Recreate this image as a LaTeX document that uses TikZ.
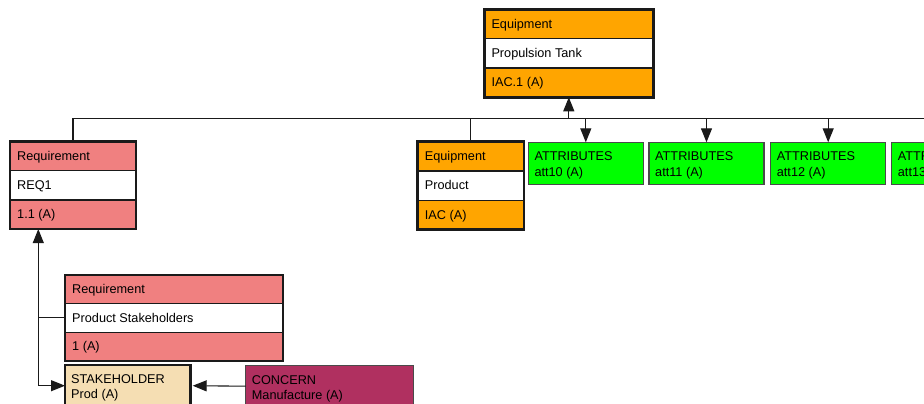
\documentclass[tikz,border=0pt]{standalone}
\usepackage{fontspec}
\setmainfont{Liberation Sans}
\usetikzlibrary{calc,arrows.meta}
\definecolor{eqorange}{HTML}{FFA500}
\definecolor{reqred}{HTML}{F08080}
\definecolor{attgreen}{HTML}{00FF00}
\definecolor{stkwheat}{HTML}{F5DEB3}
\definecolor{concernred}{HTML}{B03060}
\definecolor{edgecol}{HTML}{1A1A1A}
\definecolor{thinedge}{HTML}{4A4A4A}
\tikzset{
  conn/.style={draw=edgecol, line width=1.1pt},
  arr/.style={conn, -{Triangle[length=14pt,width=11pt]}},
  boxbase/.style={anchor=north west, inner sep=0pt, outer sep=0pt},
  txt/.style={anchor=west, inner sep=0pt, text height=9.5pt, text depth=0.8pt,
    font=\fontsize{12.7}{15}\selectfont, text=black},
  divline/.style={draw=edgecol, line width=1.2pt},
  heavy/.style={draw=edgecol, line width=2.6pt},
  medium/.style={draw=edgecol, line width=1.8pt},
  twotxt/.style={anchor=base west, inner sep=0pt, align=left,
    font=\fontsize{12.7}{15.5}\selectfont, text=black},
  attbox/.style={boxbase, draw=thinedge, line width=1.3pt, fill=attgreen,
    minimum width=115pt, minimum height=42pt},
}
\newcommand\tribox[9]{%
  \node[boxbase, fill=#6, minimum width=#4, minimum height=#5] (#1) at (#2,#3) {};
  \fill[white] ($(#1.north west)!1/3!(#1.south west)$) rectangle ($(#1.north east)!2/3!(#1.south east)$);
  \draw[divline] ($(#1.north west)!1/3!(#1.south west)$) -- ($(#1.north east)!1/3!(#1.south east)$);
  \draw[divline] ($(#1.north west)!2/3!(#1.south west)$) -- ($(#1.north east)!2/3!(#1.south east)$);
  \node[txt] (#1-a) at ($(#1.north west)!1/6!(#1.south west)+(7,0)$) {#7};
  \node[txt] (#1-b) at ($(#1.north west)!1/2!(#1.south west)+(7,0)$) {#8};
  \node[txt] (#1-c) at ($(#1.north west)!5/6!(#1.south west)+(7,0)$) {#9};
}
\newcommand\twotext[2]{%
  \node[twotxt] (#1-t) at ($(#1.north west)+(6,33.8)$) {#2};
}
\begin{document}
\begin{tikzpicture}[x=1pt,y=-1pt]
  \clip (0,0) rectangle (924,404);
  \fill[white] (0,0) rectangle (924,404);

  % three-row boxes
  \tribox{tank}{484.3}{9.3}{169}{88}{eqorange}{Equipment}{Propulsion Tank}{IAC.1 (A)}
  \draw[heavy] (tank.north west) rectangle (tank.south east);
  \tribox{prod}{417.7}{141.7}{106.3}{87.6}{eqorange}{Equipment}{Product}{IAC (A)}
  \draw[heavy] (prod.north west) rectangle (prod.south east);
  \tribox{req1}{10}{141.7}{126}{87.4}{reqred}{Requirement}{REQ1}{1.1 (A)}
  \draw[heavy] (req1.north west) rectangle (req1.south east);
  \tribox{ps}{65}{275}{218.3}{85.7}{reqred}{Requirement}{Product Stakeholders}{1 (A)}
  \draw[medium] (ps.north west) rectangle (ps.south east);

  % attribute boxes
  \node[attbox] (att10) at (528.3,142.3) {};
  \twotext{att10}{ATTRIBUTES\\att10 (A)}
  \node[attbox] (att11) at (649,142.3) {};
  \twotext{att11}{ATTRIBUTES\\att11 (A)}
  \node[attbox] (att12) at (770.7,142.3) {};
  \twotext{att12}{ATTRIBUTES\\att12 (A)}
  \node[attbox] (att13) at (891.7,142.3) {};
  \twotext{att13}{ATTRIBUTES\\att13 (A)}

  % stakeholder and concern
  \node[boxbase, draw=edgecol, line width=2.6pt, fill=stkwheat,
        minimum width=125.7pt, minimum height=41.4pt] (stake) at (65,365) {};
  \twotext{stake}{STAKEHOLDER\\Prod (A)}
  \node[boxbase, draw=thinedge, line width=1.3pt, fill=concernred,
        minimum width=167.6pt, minimum height=41pt] (concern) at (245.7,365.7) {};
  \twotext{concern}{CONCERN\\Manufacture (A)}

  % bus connectors
  \coordinate (bus) at (0,118.3);
  \draw[conn] (req1.north) |- (att13.north |- bus);
  \draw[conn] (prod.north) -- (prod.north |- bus);
  \draw[arr] (tank.south |- bus) -- (tank.south);
  \draw[arr] (att10.north |- bus) -- (att10.north);
  \draw[arr] (att11.north |- bus) -- (att11.north);
  \draw[arr] (att12.north |- bus) -- (att12.north);
  \draw[arr] (att13.north |- bus) -- (att13.north);

  % left connectors
  \coordinate (jn) at ([xshift=-26.7pt]stake.west);
  \draw[arr] (jn) -- (jn |- req1.south);
  \draw[arr] (jn) -- (stake.west);
  \draw[conn] (ps.west) -- (ps.west -| jn);
  \draw[arr, shorten >=2pt] (concern.west) -- (stake.east);
\end{tikzpicture}
\end{document}
